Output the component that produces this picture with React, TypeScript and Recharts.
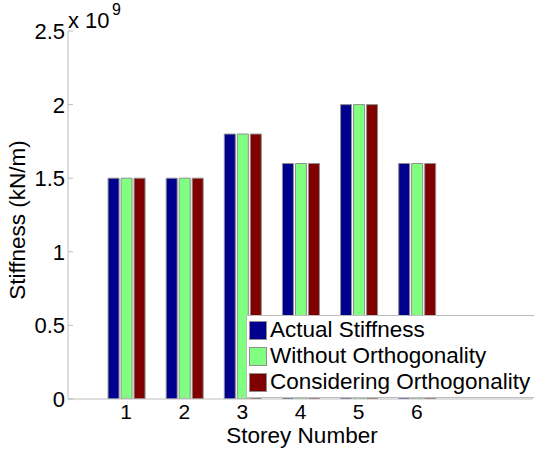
import { BarChart, Bar, XAxis, YAxis, Legend } from "recharts";

const storeys: number[] = [1, 2, 3, 4, 5, 6];
const actualStiffness: number[] = [1.5e9, 1.5e9, 1.8e9, 1.6e9, 2.0e9, 1.6e9];
const withoutOrthogonality: number[] = [1.5e9, 1.5e9, 1.8e9, 1.6e9, 2.0e9, 1.6e9];
const consideringOrthogonality: number[] = [1.5e9, 1.5e9, 1.8e9, 1.6e9, 2.0e9, 1.6e9];
const yTicks: number[] = [0, 0.5e9, 1e9, 1.5e9, 2e9, 2.5e9];

const data = storeys.map((s, i) => ({
  storey: s,
  actual: actualStiffness[i],
  without: withoutOrthogonality[i],
  considering: consideringOrthogonality[i]
}));

const W = 534;
const H = 450;
const LEFT = 68;
const TOP = 31;
const BOTTOM = 399;
const RIGHT = 533;
const AXIS = "#bdbdbd";
const EDGE = "#8f8f8f";
const FONT = "'Liberation Sans', Arial, sans-serif";

const fmt = (v: number) => String(v / 1e9);

const BottomTick = ({ x, payload }: any) => (
  <g>
    <line x1={x} x2={x} y1={BOTTOM} y2={BOTTOM - 5} stroke={AXIS} />
    <text x={x} y={419} textAnchor='middle' fontSize={21} fill='#000' fontFamily={FONT}>
      {payload.value}
    </text>
  </g>
);

const TopTick = ({ x }: any) => (
  <line x1={x} x2={x} y1={TOP} y2={TOP + 5} stroke={AXIS} />
);

const LeftTick = ({ y, payload }: any) => (
  <g>
    <line x1={LEFT} x2={LEFT + 5} y1={y} y2={y} stroke={AXIS} />
    <text
      x={LEFT - 3}
      y={y + 8}
      textAnchor='end'
      fontSize={22}
      fill='#000'
      fontFamily={FONT}
    >
      {fmt(payload.value)}
    </text>
  </g>
);

const RightTick = ({ y }: any) => (
  <line x1={RIGHT} x2={RIGHT - 5} y1={y} y2={y} stroke={AXIS} />
);

const LegendBox = ({ payload }: any) => (
  <div
    style={{
      border: `1px solid ${AXIS}`,
      background: "#fff",
      padding: "1px 0 2px 0",
      fontFamily: FONT,
      fontSize: 22.5,
      color: "#000"
    }}
  >
    {(payload || []).map((entry: any, index: number) => (
      <div
        key={`item-${index}`}
        style={{ display: "flex", alignItems: "center", height: 26 }}
      >
        <span
          style={{
            display: "inline-block",
            width: 18,
            height: 19,
            marginLeft: 2,
            marginRight: 3,
            background: entry.color,
            border: `1px solid ${EDGE}`,
            boxSizing: "border-box"
          }}
        />
        <span style={{ whiteSpace: "nowrap", lineHeight: "26px" }}>{entry.value}</span>
      </div>
    ))}
  </div>
);

const StiffnessBarChart = () => {
  return (
    <div style={{ position: "absolute", left: 0, top: 0, width: W, height: H, background: "#fff", overflow: "hidden" }}>
      <BarChart
        width={W}
        height={H}
        data={data}
        margin={{ top: TOP, right: W - RIGHT, left: 0, bottom: 0 }}
        barSize={11}
        barGap={2}
      >
        <XAxis
          dataKey='storey'
          type='number'
          domain={[0, 8]}
          ticks={storeys}
          height={H - BOTTOM}
          axisLine={{ stroke: AXIS }}
          tickLine={false}
          tick={<BottomTick />}
          allowDataOverflow
        />
        <XAxis
          xAxisId='top'
          dataKey='storey'
          type='number'
          orientation='top'
          domain={[0, 8]}
          ticks={storeys}
          height={0}
          axisLine={{ stroke: AXIS }}
          tickLine={false}
          tick={<TopTick />}
        />
        <YAxis
          domain={[0, 2.5e9]}
          ticks={yTicks}
          width={LEFT}
          axisLine={{ stroke: AXIS }}
          tickLine={false}
          tick={<LeftTick />}
          allowDataOverflow
        />
        <YAxis
          yAxisId='right'
          orientation='right'
          domain={[0, 2.5e9]}
          ticks={yTicks}
          width={0}
          axisLine={{ stroke: AXIS }}
          tickLine={false}
          tick={<RightTick />}
        />
        <Legend
          layout='vertical'
          align='center'
          verticalAlign='middle'
          itemSorter={null}
          content={<LegendBox />}
          wrapperStyle={{ position: "absolute", left: 246, top: 315, width: 300, height: "auto" }}
        />
        <Bar dataKey='actual' name='Actual Stiffness' fill='#00008f' stroke={EDGE} strokeWidth={1} isAnimationActive={false} />
        <Bar dataKey='without' name='Without Orthogonality' fill='#80ff80' stroke={EDGE} strokeWidth={1} isAnimationActive={false} />
        <Bar dataKey='considering' name='Considering Orthogonality' fill='#800000' stroke={EDGE} strokeWidth={1} isAnimationActive={false} />
      </BarChart>
      <svg
        width={W}
        height={H}
        style={{ position: "absolute", left: 0, top: 0, pointerEvents: "none" }}
        fontFamily={FONT}
      >
        <text x={68} y={28} fontSize={22} fill='#000'>x 10</text>
        <text x={112} y={15} fontSize={16} fill='#000'>9</text>
        <text
          x={25}
          y={220}
          fontSize={22.5}
          fill='#000'
          textAnchor='middle'
          transform='rotate(-90 25 220)'
        >
          Stiffness (kN/m)
        </text>
        <text x={302} y={443} fontSize={22.5} fill='#000' textAnchor='middle'>
          Storey Number
        </text>
      </svg>
    </div>
  );
};

export default StiffnessBarChart;
